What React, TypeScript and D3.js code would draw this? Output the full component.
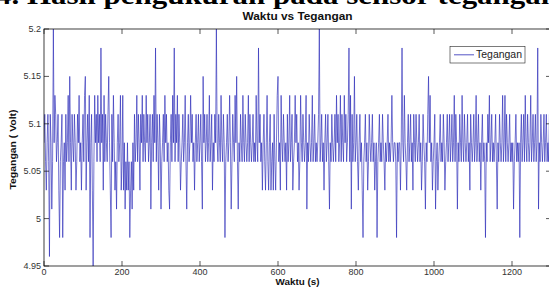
import React, { useEffect } from "react";
import * as d3 from "d3";

// Voltage samples (V), one every 2 s in 100 s blocks
const volts000 = [
  5.08, 5.11, 5.06, 5.03, 5.08, 5.11, 5.06, 4.96, 5.11, 5.08,
  5.01, 5.06, 5.2, 5.08, 5.13, 5.11, 5.06, 5.08, 5.11, 5.03,
  4.98, 5.06, 5.08, 5.11, 4.98, 5.06, 5.08, 5.03, 5.11, 5.06,
  5.08, 5.13, 5.06, 5.15, 5.08, 5.03, 5.11, 5.08, 5.06, 5.11,
  5.08, 5.03, 5.06, 5.11, 5.08, 5.13, 5.06, 5.08, 5.03, 5.08,
];
const volts100 = [
  5.11, 5.06, 5.13, 5.15, 5.03, 5.08, 5.11, 5.06, 5.13, 4.98,
  5.08, 5.11, 5.03, 4.95, 5.06, 5.13, 5.08, 5.11, 5.06, 5.13,
  5.08, 5.11, 5.06, 5.18, 5.08, 5.11, 5.03, 5.13, 5.06, 5.11,
  5.08, 5.06, 5.11, 5.15, 5.08, 5.03, 4.98, 5.11, 5.06, 5.13,
  5.08, 5.03, 5.06, 5.01, 5.08, 5.11, 5.06, 5.08, 5.13, 5.03,
];
const volts200 = [
  5.06, 5.13, 5.03, 5.08, 5.01, 5.06, 5.03, 5.08, 5.03, 5.06,
  4.98, 5.03, 5.06, 5.01, 5.08, 5.03, 5.11, 5.06, 5.08, 5.13,
  5.06, 5.11, 5.08, 5.03, 5.11, 5.08, 5.13, 5.06, 5.11, 5.08,
  5.06, 5.13, 5.08, 5.11, 5.06, 5.08, 5.11, 5.01, 5.08, 5.11,
  5.06, 5.13, 5.08, 5.18, 5.06, 5.11, 5.08, 5.03, 5.11, 5.08,
];
const volts300 = [
  5.01, 5.06, 5.08, 5.11, 5.06, 5.13, 5.08, 5.11, 5.06, 5.08,
  5.03, 5.01, 5.08, 5.11, 5.06, 5.13, 5.08, 5.18, 5.06, 5.11,
  5.08, 5.13, 5.06, 5.11, 5.08, 5.03, 5.06, 5.08, 5.11, 5.06,
  5.08, 5.13, 5.06, 5.01, 5.08, 5.11, 5.06, 5.08, 5.13, 5.08,
  5.11, 5.06, 5.08, 5.03, 5.08, 5.11, 5.06, 5.08, 5.11, 5.06,
];
const volts400 = [
  5.08, 5.11, 5.06, 5.01, 5.15, 5.08, 5.11, 5.06, 5.08, 5.11,
  5.06, 5.08, 5.13, 5.06, 5.08, 5.11, 5.03, 5.08, 5.06, 5.11,
  5.08, 5.2, 5.08, 5.06, 5.11, 5.08, 5.06, 5.13, 5.08, 5.06,
  5.11, 5.08, 4.98, 5.06, 5.08, 5.11, 5.06, 5.08, 5.13, 5.08,
  5.01, 5.06, 5.11, 5.08, 5.06, 5.13, 5.08, 5.15, 5.06, 5.01,
];
const volts500 = [
  5.08, 5.06, 5.11, 5.08, 5.06, 5.13, 5.08, 5.06, 5.11, 5.08,
  5.06, 5.08, 5.13, 5.06, 5.11, 5.08, 5.06, 5.08, 5.11, 5.06,
  5.08, 5.06, 5.13, 5.08, 5.06, 5.18, 5.08, 5.11, 5.06, 5.08,
  5.03, 5.08, 5.11, 5.06, 5.03, 5.08, 5.13, 5.06, 5.03, 5.08,
  5.11, 5.03, 5.06, 5.08, 5.03, 5.11, 5.06, 5.03, 5.08, 5.13,
];
const volts600 = [
  5.15, 5.06, 5.08, 5.03, 5.13, 5.08, 5.06, 5.11, 5.08, 5.06,
  5.08, 5.03, 5.11, 5.06, 5.08, 5.13, 5.06, 5.08, 5.11, 5.03,
  5.06, 5.08, 5.13, 5.08, 5.11, 5.06, 5.08, 5.03, 5.06, 5.13,
  5.08, 5.06, 5.11, 5.08, 5.06, 5.08, 5.13, 5.01, 5.08, 5.06,
  5.11, 5.08, 5.06, 5.08, 5.13, 5.06, 5.08, 5.11, 5.06, 5.08,
];
const volts700 = [
  5.06, 5.08, 5.11, 5.2, 5.06, 5.08, 5.11, 5.06, 5.08, 5.03,
  5.08, 5.11, 5.06, 5.08, 5.11, 5.06, 5.01, 5.08, 5.06, 5.11,
  5.08, 5.06, 5.08, 5.11, 5.06, 5.13, 5.08, 5.11, 5.06, 5.08,
  5.13, 5.06, 5.11, 5.08, 5.06, 5.13, 5.08, 5.11, 5.06, 5.08,
  5.11, 5.18, 5.06, 5.13, 5.01, 5.11, 5.06, 5.08, 5.15, 5.06,
];
const volts800 = [
  5.08, 5.11, 5.06, 5.03, 5.08, 5.11, 5.06, 5.08, 5.03, 4.98,
  5.06, 5.08, 5.11, 5.06, 5.08, 5.03, 5.06, 5.11, 5.08, 5.06,
  5.08, 5.11, 5.06, 5.08, 5.03, 5.06, 5.08, 4.98, 5.06, 5.08,
  5.11, 5.06, 5.08, 5.06, 5.11, 5.08, 5.06, 5.03, 5.08, 5.06,
  5.08, 5.11, 5.06, 5.08, 5.06, 5.08, 5.13, 5.08, 5.06, 5.08,
];
const volts900 = [
  5.08, 5.06, 4.98, 5.08, 5.06, 5.08, 5.08, 5.03, 5.08, 5.18,
  5.08, 5.06, 5.13, 5.08, 5.06, 5.03, 5.08, 5.11, 5.06, 5.08,
  5.11, 5.06, 5.08, 5.03, 5.11, 5.08, 5.06, 5.11, 5.08, 5.06,
  5.08, 5.11, 5.06, 5.08, 5.03, 5.06, 5.11, 5.08, 5.06, 5.01,
  5.08, 5.06, 5.11, 5.15, 5.08, 5.13, 5.06, 5.08, 5.03, 5.06,
];
const volts1000 = [
  5.08, 5.11, 5.01, 5.06, 5.08, 5.03, 5.06, 5.08, 5.11, 5.06,
  5.08, 5.06, 5.11, 5.08, 5.03, 5.06, 5.08, 5.11, 5.06, 5.08,
  5.11, 5.06, 5.08, 5.11, 5.06, 5.08, 5.13, 5.06, 5.11, 5.08,
  5.01, 5.08, 5.06, 5.11, 5.08, 5.06, 5.13, 5.08, 5.06, 5.11,
  5.08, 5.06, 5.08, 5.11, 5.06, 5.08, 5.03, 5.11, 5.08, 5.06,
];
const volts1100 = [
  5.08, 5.11, 5.06, 5.08, 5.13, 5.06, 5.08, 5.11, 5.06, 5.08,
  5.03, 5.08, 5.11, 5.06, 5.08, 5.06, 4.98, 5.08, 5.06, 5.11,
  5.08, 5.13, 5.06, 5.08, 5.11, 5.06, 5.08, 5.06, 5.08, 5.11,
  5.06, 5.01, 5.08, 5.06, 5.11, 5.08, 5.06, 5.08, 5.13, 5.06,
  5.08, 5.13, 5.06, 5.11, 5.08, 5.06, 5.08, 5.11, 5.06, 5.08,
];
const volts1200 = [
  5.06, 5.08, 5.01, 5.06, 5.08, 5.11, 5.06, 5.08, 5.06, 5.08,
  4.98, 5.08, 5.11, 5.06, 5.08, 5.11, 5.06, 5.13, 5.08, 5.06,
  5.11, 5.08, 5.06, 5.08, 5.13, 5.06, 5.08, 5.11, 5.06, 5.08,
  5.11, 5.06, 5.08, 5.18, 5.01, 5.08, 5.06, 5.11, 5.08, 5.06,
  5.08, 5.11, 5.06, 5.08, 5.11, 5.06, 5.08, 5.06, 5.11, 5.08, 5.06,
];

const tegangan = [
  ...volts000, ...volts100, ...volts200, ...volts300, ...volts400,
  ...volts500, ...volts600, ...volts700, ...volts800, ...volts900,
  ...volts1000, ...volts1100, ...volts1200,
];
const sampleStep = 2; // seconds between samples

const xTicks = [0, 200, 400, 600, 800, 1000, 1200];
const yTicks = [4.95, 5, 5.05, 5.1, 5.15, 5.2];
const xDomain = [0, 1300];
const yDomain = [4.95, 5.2];

const chartTitle = "Waktu vs Tegangan";
const xLabel = "Waktu (s)";
const yLabel = "Tegangan ( Volt)";
const legendLabel = "Tegangan";
const headerText = "4.  Hasil pengukuran pada sensor tegangan";

const W = 549;
const H = 291;
const L = 44;
const R = 551;
const T = 29;
const B = 266;

export default function App() {
  useEffect(() => {
    document.body.style.margin = "0";
  }, []);

  const x = d3.scaleLinear().domain(xDomain).range([L, R]);
  const y = d3.scaleLinear().domain(yDomain).range([B, T]);

  const line = d3
    .line<number>()
    .x((_, i) => x(i * sampleStep))
    .y((d) => y(d));

  const pathD = line(tegangan) || "";
  const sans = "'Liberation Sans', Arial, sans-serif";
  const tickLen = 5;
  const axisColor = "#111";
  const dataColor = "#2a2ab8";

  return (
    <svg
      width={W}
      height={H}
      viewBox={`0 0 ${W} ${H}`}
      style={{ position: "absolute", left: 0, top: 0, background: "#fff" }}
    >
      <rect x={0} y={0} width={W} height={H} fill="#fff" />
      <text
        x={-4}
        y={3.5}
        fontFamily="'Liberation Serif', 'Times New Roman', serif"
        fontWeight="bold"
        fontSize={26}
        fill="#000"
        textLength={562}
        lengthAdjust="spacingAndGlyphs"
      >
        {headerText}
      </text>

      <defs>
        <clipPath id="plotClip">
          <rect x={L} y={T} width={R - L} height={B - T} />
        </clipPath>
      </defs>

      <path
        d={pathD}
        fill="none"
        stroke={dataColor}
        strokeWidth={0.65}
        clipPath="url(#plotClip)"
      />

      {/* axes box */}
      <rect
        x={L}
        y={T}
        width={R - L}
        height={B - T}
        fill="none"
        stroke={axisColor}
        strokeWidth={0.8}
      />

      {xTicks.map((t) => (
        <g key={`xt${t}`}>
          <line x1={x(t)} x2={x(t)} y1={B} y2={B - tickLen} stroke={axisColor} strokeWidth={0.7} />
          <line x1={x(t)} x2={x(t)} y1={T} y2={T + tickLen} stroke={axisColor} strokeWidth={0.7} />
          <text
            x={x(t)}
            y={275}
            textAnchor="middle"
            fontFamily={sans}
            fontSize={9}
            fill="#333"
          >
            {t}
          </text>
        </g>
      ))}

      {yTicks.map((v) => (
        <g key={`yt${v}`}>
          <line x1={L} x2={L + tickLen} y1={y(v)} y2={y(v)} stroke={axisColor} strokeWidth={0.7} />
          <line x1={R} x2={R - tickLen} y1={y(v)} y2={y(v)} stroke={axisColor} strokeWidth={0.7} />
          <text
            x={41}
            y={y(v) + 3}
            textAnchor="end"
            fontFamily={sans}
            fontSize={9}
            fill="#333"
          >
            {String(v)}
          </text>
        </g>
      ))}

      <text
        x={(L + R) / 2}
        y={19.5}
        textAnchor="middle"
        fontFamily={sans}
        fontWeight="bold"
        fontSize={10.5}
        textLength={110}
        lengthAdjust="spacingAndGlyphs"
        fill="#111"
      >
        {chartTitle}
      </text>

      <text
        x={(L + R) / 2}
        y={285}
        textAnchor="middle"
        fontFamily={sans}
        fontWeight="bold"
        fontSize={9.5}
        textLength={44}
        lengthAdjust="spacingAndGlyphs"
        fill="#111"
      >
        {xLabel}
      </text>

      <text
        transform={`translate(15.5, ${(T + B) / 2 + 2}) rotate(-90)`}
        textAnchor="middle"
        fontFamily={sans}
        fontWeight="bold"
        fontSize={9.5}
        textLength={80}
        lengthAdjust="spacingAndGlyphs"
        fill="#111"
      >
        {yLabel}
      </text>

      {/* legend */}
      <g>
        <rect x={450} y={46.5} width={75} height={16.5} fill="#fff" stroke="#222" strokeWidth={0.6} />
        <line x1={454} x2={474} y1={54.8} y2={54.8} stroke={dataColor} strokeWidth={0.8} />
        <text
          x={476}
          y={58.3}
          fontFamily={sans}
          fontSize={10}
          textLength={46}
          lengthAdjust="spacingAndGlyphs"
          fill="#222"
        >
          {legendLabel}
        </text>
      </g>
    </svg>
  );
}
